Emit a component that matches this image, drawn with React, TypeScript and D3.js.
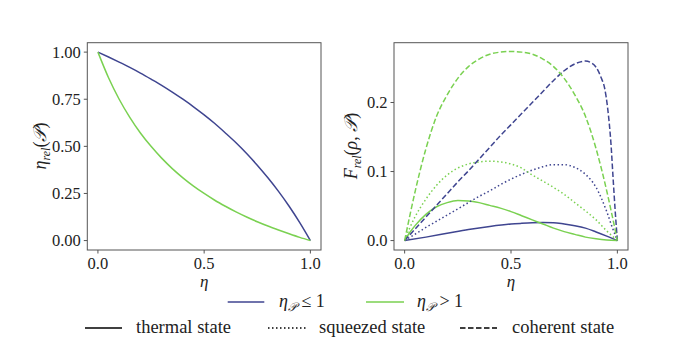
import React from 'react'
import * as d3 from 'd3'

// left panel: eta_rel vs eta
const etaGrid = [0, 0.05, 0.1, 0.15, 0.2, 0.25, 0.3, 0.35, 0.4, 0.45, 0.5, 0.55, 0.6, 0.65, 0.7, 0.75, 0.8, 0.85, 0.9, 0.95, 1]
const relLow = [1, 0.974, 0.947, 0.919, 0.889, 0.857, 0.824, 0.788, 0.75, 0.71, 0.667, 0.621, 0.571, 0.519, 0.462, 0.4, 0.333, 0.261, 0.182, 0.095, 0]
const relHigh = [1, 0.864, 0.75, 0.654, 0.571, 0.5, 0.4375, 0.382, 0.333, 0.289, 0.25, 0.214, 0.182, 0.152, 0.125, 0.1, 0.077, 0.056, 0.036, 0.017, 0]

// right panel: F_rel vs eta
const thermalLowEta = [0, 0.1, 0.2, 0.3, 0.4, 0.5, 0.55, 0.6, 0.65, 0.7, 0.75, 0.8, 0.85, 0.9, 0.95, 1]
const thermalLow = [0, 0.005, 0.0105, 0.016, 0.0205, 0.024, 0.025, 0.0258, 0.0262, 0.026, 0.024, 0.0215, 0.018, 0.0125, 0.0065, 0]
const thermalHighEta = [0, 0.025, 0.05, 0.1, 0.15, 0.2, 0.25, 0.3, 0.35, 0.4, 0.45, 0.5, 0.55, 0.6, 0.65, 0.7, 0.75, 0.8, 0.85, 0.9, 0.95, 1]
const thermalHigh = [0, 0.012, 0.022, 0.038, 0.049, 0.055, 0.058, 0.0575, 0.055, 0.051, 0.047, 0.042, 0.036, 0.03, 0.024, 0.018, 0.013, 0.009, 0.005, 0.0025, 0.0008, 0]
const squeezedLowEta = [0, 0.05, 0.1, 0.15, 0.2, 0.25, 0.3, 0.35, 0.4, 0.45, 0.5, 0.55, 0.6, 0.65, 0.7, 0.75, 0.8, 0.85, 0.9, 0.95, 0.975, 1]
const squeezedLow = [0, 0.0095, 0.019, 0.028, 0.037, 0.046, 0.055, 0.064, 0.072, 0.081, 0.089, 0.096, 0.102, 0.107, 0.11, 0.11, 0.106, 0.096, 0.077, 0.042, 0.02, 0]
const squeezedHighEta = [0, 0.025, 0.05, 0.1, 0.15, 0.2, 0.25, 0.3, 0.35, 0.4, 0.45, 0.5, 0.55, 0.6, 0.65, 0.7, 0.75, 0.8, 0.85, 0.9, 0.95, 1]
const squeezedHigh = [0, 0.019, 0.035, 0.06, 0.08, 0.095, 0.105, 0.111, 0.114, 0.115, 0.114, 0.111, 0.105, 0.095, 0.086, 0.077, 0.067, 0.055, 0.043, 0.03, 0.014, 0]
const coherentLowEta = [0, 0.05, 0.1, 0.15, 0.2, 0.25, 0.3, 0.35, 0.4, 0.45, 0.5, 0.55, 0.6, 0.65, 0.7, 0.75, 0.8, 0.85, 0.875, 0.9, 0.925, 0.94, 0.955, 0.97, 0.98, 0.99, 1]
const coherentLow = [0, 0.017, 0.034, 0.051, 0.068, 0.085, 0.101, 0.118, 0.135, 0.152, 0.168, 0.184, 0.2, 0.216, 0.232, 0.246, 0.256, 0.26, 0.258, 0.251, 0.235, 0.221, 0.19, 0.14, 0.09, 0.042, 0]
const coherentHighEta = [0, 0.025, 0.05, 0.1, 0.15, 0.2, 0.25, 0.3, 0.35, 0.4, 0.45, 0.5, 0.55, 0.6, 0.65, 0.7, 0.75, 0.8, 0.85, 0.9, 0.95, 0.975, 1]
const coherentHigh = [0, 0.037, 0.072, 0.133, 0.18, 0.211, 0.235, 0.252, 0.263, 0.27, 0.273, 0.274, 0.273, 0.27, 0.263, 0.252, 0.235, 0.211, 0.18, 0.133, 0.072, 0.037, 0]

const xTicks = [0, 0.5, 1]
const leftYTicks = [0, 0.25, 0.5, 0.75, 1]
const rightYTicks = [0, 0.1, 0.2]

const blue = '#3f4590'
const green = '#7ad151'
const spine = '#555'
const serif = { fontFamily: "'Liberation Serif', 'DejaVu Serif', serif" }

type Series = { xs: number[], ys: number[], color: string, dash?: string }

const Panel = (props: { left: number, right: number, top: number, bottom: number, yDomain: [number, number], yTicks: number[], yFmt: (d: number) => string, series: Series[] }) => {
  const x = d3.scaleLinear().domain([-0.05, 1.05]).range([props.left, props.right])
  const y = d3.scaleLinear().domain(props.yDomain).range([props.bottom, props.top])
  const line = d3.line<[number, number]>()
    .x(d => x(d[0]))
    .y(d => y(d[1]))
    .curve(d3.curveMonotoneX)

  return (
    <g>
      {props.series.map((s, i) =>
        <path key={i} d={line(s.xs.map((v, j) => [v, s.ys[j]]) as [number, number][]) || ''}
          fill="none" stroke={s.color} strokeWidth={1.5} strokeDasharray={s.dash} />
      )}
      <rect x={props.left} y={props.top} width={props.right - props.left} height={props.bottom - props.top}
        fill="none" stroke={spine} strokeWidth={1} />
      {xTicks.map((t, i) => <g key={'x' + i} transform={'translate(' + x(t) + ',' + props.bottom + ')'}>
        <line y2={3.5} stroke={spine} />
        <text y={18.5} textAnchor="middle" fontSize={16.5} style={serif} fill="#222">{d3.format('.1f')(t)}</text>
      </g>)}
      {props.yTicks.map((t, i) => <g key={'y' + i} transform={'translate(' + props.left + ',' + y(t) + ')'}>
        <line x2={-3.5} stroke={spine} />
        <text x={-6.5} dy="0.33em" textAnchor="end" fontSize={16.5} style={serif} fill="#222">{props.yFmt(t)}</text>
      </g>)}
      <text x={(props.left + props.right) / 2} y={287} textAnchor="middle" fontSize={17} style={serif} fontStyle="italic" fill="#222">η</text>
    </g>
  )
}

const App = () => {
  const W = 698
  const H = 358

  const leftSeries: Series[] = [
    { xs: etaGrid, ys: relLow, color: blue },
    { xs: etaGrid, ys: relHigh, color: green },
  ]
  const rightSeries: Series[] = [
    { xs: thermalLowEta, ys: thermalLow, color: blue },
    { xs: thermalHighEta, ys: thermalHigh, color: green },
    { xs: squeezedLowEta, ys: squeezedLow, color: blue, dash: '1.5,2.5' },
    { xs: squeezedHighEta, ys: squeezedHigh, color: green, dash: '1.5,2.5' },
    { xs: coherentLowEta, ys: coherentLow, color: blue, dash: '5.5,2.5' },
    { xs: coherentHighEta, ys: coherentHigh, color: green, dash: '5.5,2.5' },
  ]

  const legendText = { fontSize: 18.5, style: serif, fill: '#222' }

  return (
    <svg width={W} height={H} style={{ position: 'absolute', left: 0, top: 0, background: '#fff' }}>
      <Panel left={87.3} right={321} top={42.7} bottom={250} yDomain={[-0.05, 1.05]}
        yTicks={leftYTicks} yFmt={d3.format('.2f')} series={leftSeries} />
      <Panel left={394} right={628} top={42.7} bottom={250} yDomain={[-0.01365, 0.28665]}
        yTicks={rightYTicks} yFmt={d3.format('.1f')} series={rightSeries} />

      <text transform="translate(46,146) rotate(-90)" textAnchor="middle" {...legendText} fontSize={18}>
        <tspan fontStyle="italic">η</tspan>
        <tspan fontStyle="italic" fontSize={12} dy={4}>rel</tspan>
        <tspan dy={-4}>(</tspan>
        <tspan fontStyle="italic">𝒫</tspan>
        <tspan>)</tspan>
      </text>
      <text transform="translate(357,146) rotate(-90)" textAnchor="middle" {...legendText} fontSize={18}>
        <tspan fontStyle="italic">F</tspan>
        <tspan fontStyle="italic" fontSize={12} dy={4}>rel</tspan>
        <tspan dy={-4}>(</tspan>
        <tspan fontStyle="italic">ρ</tspan>
        <tspan>, </tspan>
        <tspan fontStyle="italic">𝒫</tspan>
        <tspan>)</tspan>
      </text>

      {/* legend row 1 */}
      <line x1={227.7} x2={264.3} y1={302} y2={302} stroke={blue} strokeWidth={1.5} />
      <text x={279} y={307} {...legendText} fontSize={18}>
        <tspan fontStyle="italic">η</tspan>
        <tspan fontStyle="italic" fontSize={12} dy={4}>𝒫</tspan>
        <tspan dy={-4}> ≤ 1</tspan>
      </text>
      <line x1={366} x2={404} y1={302} y2={302} stroke={green} strokeWidth={1.5} />
      <text x={417} y={307} {...legendText} fontSize={18}>
        <tspan fontStyle="italic">η</tspan>
        <tspan fontStyle="italic" fontSize={12} dy={4}>𝒫</tspan>
        <tspan dy={-4}> &gt; 1</tspan>
      </text>

      {/* legend row 2 */}
      <line x1={85} x2={122} y1={328} y2={328} stroke="#000" strokeWidth={1.5} />
      <text x={136} y={333} {...legendText}>thermal state</text>
      <line x1={268} x2={305.7} y1={328} y2={328} stroke="#000" strokeWidth={1.5} strokeDasharray="1.5,2.5" />
      <text x={319} y={333} {...legendText}>squeezed state</text>
      <line x1={460} x2={497} y1={328} y2={328} stroke="#000" strokeWidth={1.5} strokeDasharray="5.5,2.5" />
      <text x={512} y={333} {...legendText}>coherent state</text>
    </svg>
  )
}

export default App
